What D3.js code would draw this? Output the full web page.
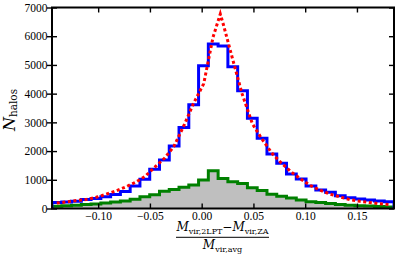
<!DOCTYPE html>
<html>
<head>
<meta charset="utf-8">
<script src="https://cdn.jsdelivr.net/npm/d3@7"></script>
<style>
  body { margin: 0; background: #fff; }
  .tick text { font-family: "Liberation Serif", serif; font-size: 11.5px; fill: #000; }
  .tick line { stroke: #000; stroke-width: 1.4px; }
</style>
</head>
<body>
<div id="chart"></div>
<script>
// histogram of relative virial mass difference, 35 bins over the axis range
const binRange = [-0.1446, 0.1858];
const nBins = 35;

// blue step histogram
const blueCounts = [205, 225, 255, 310, 350, 410, 490, 590, 780, 1020,
    1367, 1690, 2180, 2818, 3610, 4970, 5730, 5660, 4935, 4098,
    3146, 2449, 1901, 1577, 1203, 1029, 785, 645, 565, 447,
    377, 331, 296, 262, 237];

// green step histogram with grey fill
const greenCounts = [80, 95, 115, 135, 160, 190, 225, 265, 320, 412,
    480, 600, 660, 740, 820, 994, 1318, 1045, 935, 870,
    720, 630, 500, 430, 370, 296, 237, 210, 170, 140,
    115, 100, 85, 68, 55];

// red dotted curve
const redX = [-0.140, -0.130, -0.121, -0.112, -0.102, -0.093, -0.083, -0.074, -0.064, -0.055,
    -0.045, -0.036, -0.027, -0.017, -0.008, 0.002, 0.011, 0.018, 0.021, 0.030,
    0.039, 0.049, 0.058, 0.068, 0.077, 0.087, 0.096, 0.105, 0.115, 0.124,
    0.134, 0.143, 0.153, 0.162, 0.172, 0.181];
const redY = [190, 230, 280, 310, 390, 490, 610, 740, 914, 1110,
    1450, 1750, 2150, 2900, 3650, 4350, 5970, 6775, 6400, 5190,
    4000, 2950, 2430, 1920, 1580, 1260, 1020, 800, 630, 500,
    400, 310, 250, 210, 165, 140];

const xTicks = [-0.10, -0.05, 0.00, 0.05, 0.10, 0.15];
const yTicks = [0, 1000, 2000, 3000, 4000, 5000, 6000, 7000];

const width = 399, height = 260;
const margin = {top: 7.5, right: 5, bottom: 51.5, left: 52};

const svg = d3.select('#chart').append('svg')
    .attr('width', width)
    .attr('height', height);

const x = d3.scaleLinear().domain(binRange).range([margin.left, width - margin.right]);
const y = d3.scaleLinear().domain([0, 7000]).range([height - margin.bottom, margin.top]);

const edges = d3.range(nBins + 1).map(i => binRange[0] + i * (binRange[1] - binRange[0]) / nBins);

function stepPoints(counts) {
    const pts = [[edges[0], 0]];
    counts.forEach((c, i) => {
        pts.push([edges[i], c]);
        pts.push([edges[i + 1], c]);
    });
    pts.push([edges[nBins], 0]);
    return pts;
}

svg.append('clipPath').attr('id', 'plot-clip')
    .append('rect')
    .attr('x', x.range()[0])
    .attr('y', y.range()[1])
    .attr('width', x.range()[1] - x.range()[0])
    .attr('height', y.range()[0] - y.range()[1]);

const plot = svg.append('g').attr('clip-path', 'url(#plot-clip)');

const line = d3.line().x(d => x(d[0])).y(d => y(d[1]));
const area = d3.area().x(d => x(d[0])).y0(y(0)).y1(d => y(d[1]));

// grey filled green histogram
plot.append('path')
    .datum(stepPoints(greenCounts))
    .attr('d', area)
    .attr('fill', '#bfbfbf');
plot.append('path')
    .datum(stepPoints(greenCounts))
    .attr('d', line)
    .attr('fill', 'none')
    .attr('stroke', '#008000')
    .attr('stroke-width', 3);

// blue histogram
plot.append('path')
    .datum(stepPoints(blueCounts))
    .attr('d', line)
    .attr('fill', 'none')
    .attr('stroke', '#0000ff')
    .attr('stroke-width', 3);

// red dotted line
plot.append('path')
    .datum(redX.map((v, i) => [v, redY[i]]))
    .attr('d', line)
    .attr('fill', 'none')
    .attr('stroke', '#ff0000')
    .attr('stroke-width', 3)
    .attr('stroke-dasharray', '3,2.6');

// axes
const fmtX = d3.format('.2f');

const xAxis = svg.append('g')
    .attr('transform', `translate(0,${y(0)})`)
    .call(d3.axisBottom(x).tickValues(xTicks).tickFormat(fmtX).tickSizeInner(-5).tickSizeOuter(0).tickPadding(3));
xAxis.select('.domain').remove();

svg.append('g')
    .attr('transform', `translate(0,${y(7000)})`)
    .call(d3.axisTop(x).tickValues(xTicks).tickFormat('').tickSizeInner(-5).tickSizeOuter(0))
    .select('.domain').remove();

const yAxis = svg.append('g')
    .attr('transform', `translate(${x(binRange[0])},0)`)
    .call(d3.axisLeft(y).tickValues(yTicks).tickFormat(d3.format('d')).tickSize(5).tickPadding(0));
yAxis.select('.domain').remove();
yAxis.selectAll('.tick line').attr('x1', 5);
yAxis.selectAll('.tick text').attr('x', -4.5);

svg.append('g')
    .attr('transform', `translate(${x(binRange[1])},0)`)
    .call(d3.axisRight(y).tickValues(yTicks).tickFormat('').tickSizeInner(-5).tickSizeOuter(0))
    .select('.domain').remove();

// frame
svg.append('rect')
    .attr('x', x.range()[0])
    .attr('y', y.range()[1])
    .attr('width', x.range()[1] - x.range()[0])
    .attr('height', y.range()[0] - y.range()[1])
    .attr('fill', 'none')
    .attr('stroke', '#000')
    .attr('stroke-width', 2);

// y label
const yLabel = svg.append('text')
    .attr('transform', `translate(15,110) rotate(-90)`)
    .attr('text-anchor', 'middle')
    .attr('font-family', 'DejaVu Serif, serif');
yLabel.append('tspan').attr('font-style', 'italic').attr('font-size', 16).text('N');
yLabel.append('tspan').attr('font-size', 10.5).attr('dy', 2).text('halos');

// x label as a fraction
const cx = 222.5;
const num = svg.append('text')
    .attr('x', cx).attr('y', 230.5)
    .attr('text-anchor', 'middle')
    .attr('font-family', 'DejaVu Serif, serif')
    .attr('font-size', 12);
num.append('tspan').attr('font-style', 'italic').text('M');
num.append('tspan').attr('font-size', 8).attr('dy', 3).text('vir,2LPT');
num.append('tspan').attr('dy', -3).text('−');
num.append('tspan').attr('font-style', 'italic').text('M');
num.append('tspan').attr('font-size', 8).attr('dy', 3).text('vir,ZA');

svg.append('line')
    .attr('x1', 176).attr('x2', 269)
    .attr('y1', 237.3).attr('y2', 237.3)
    .attr('stroke', '#000')
    .attr('stroke-width', 1);

const den = svg.append('text')
    .attr('x', cx).attr('y', 248.5)
    .attr('text-anchor', 'middle')
    .attr('font-family', 'DejaVu Serif, serif')
    .attr('font-size', 12);
den.append('tspan').attr('font-style', 'italic').text('M');
den.append('tspan').attr('font-size', 8).attr('dy', 3).text('vir,avg');
</script>
</body>
</html>
